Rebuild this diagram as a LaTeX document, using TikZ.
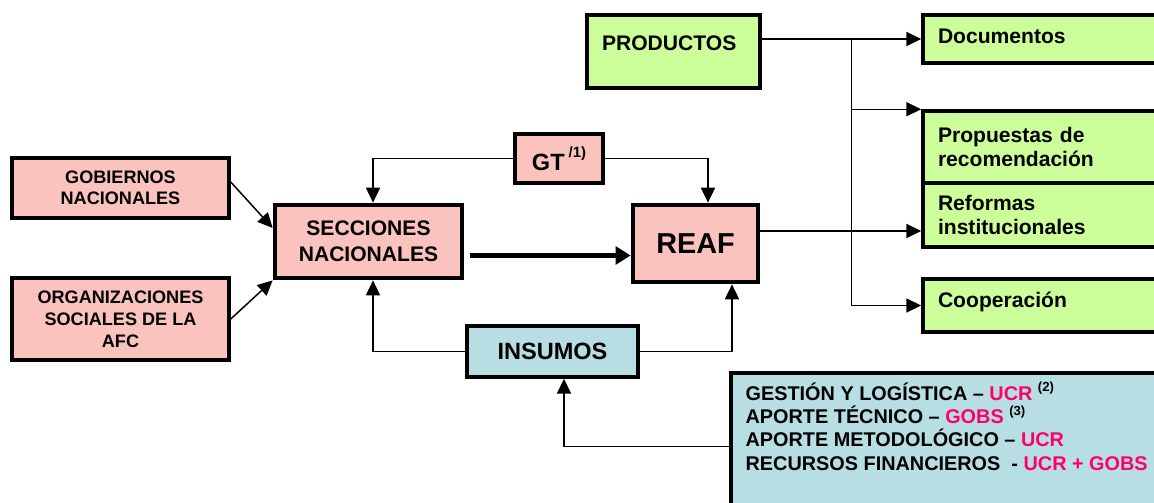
\documentclass[tikz,border=0pt]{standalone}
\usepackage{fontspec}
\setmainfont{Liberation Sans}
\usepackage{xcolor}
\usetikzlibrary{arrows.meta, positioning}
\definecolor{rosa}{RGB}{250,195,190}
\definecolor{verde}{RGB}{204,255,153}
\definecolor{celeste}{RGB}{183,222,227}
\definecolor{fucsia}{RGB}{255,0,102}
\newcommand{\supnote}[1]{\raisebox{0.8ex}{\fontsize{7.5}{8}\selectfont #1}}

\begin{document}
\begin{tikzpicture}[
    x=0.02cm, y=-0.02cm,
    box/.style={draw=black, line width=2pt, inner sep=0pt, align=center},
    rosabox/.style={box, fill=rosa},
    verdebox/.style={box, fill=verde, align=left, inner xsep=0.3cm, text width=4.34cm,
                     font=\fontsize{12}{13.6}\selectfont\bfseries},
    celestebox/.style={box, fill=celeste},
    heavy/.style={line width=2.7pt},
    linea/.style={line width=0.85pt},
    conn/.style={linea, -{Triangle[length=8.5pt, width=8pt]}},
    gruesa/.style={line width=2.3pt, -{Triangle[length=8.5pt, width=10pt]}}
]
\useasboundingbox (0,0) rectangle (1154,503);

   % Entidades
   \node[rosabox, minimum width=4.34cm, minimum height=1.2cm, font=\fontsize{10.3}{12.2}\selectfont\bfseries] (gob) at (120.5,188) {GOBIERNOS\\NACIONALES};
   \node[rosabox, minimum width=4.34cm, minimum height=1.64cm, font=\fontsize{10.3}{12.6}\selectfont\bfseries] (org) at (120.5,319) {ORGANIZACIONES\\SOCIALES DE LA\\AFC};
   \node[rosabox, heavy, minimum width=3.74cm, minimum height=1.46cm, font=\fontsize{12}{14.8}\selectfont\bfseries] (secc) at (368.5,241.5) {SECCIONES\\NACIONALES};
   \node[rosabox, minimum width=1.76cm, minimum height=0.98cm, font=\fontsize{13.4}{16}\selectfont\bfseries] (gt) at (559,158.5) {GT\,\raisebox{1ex}{\fontsize{8.5}{9}\selectfont /1)}};
   \node[rosabox, heavy, minimum width=2.5cm, minimum height=1.54cm, font=\fontsize{16.4}{19}\selectfont\bfseries] (reaf) at (695.5,243.5) {REAF};
   \node[celestebox, minimum width=3.42cm, minimum height=1.02cm, font=\fontsize{13.4}{16}\selectfont\bfseries] (ins) at (552.5,351.5) {INSUMOS};

   % Productos
   \node[verdebox, text width=2.86cm, text height=0.71cm, text depth=0.75cm, inner ysep=0pt] (prod) at (673.5,51.5) {PRODUCTOS};
   \node[verdebox, text height=0.57cm, text depth=0.39cm, inner ysep=0pt] (doc) at (1046.5,39) {Documentos};
   \node[verdebox, minimum height=1.44cm] (prop) at (1046.5,147) {Propuestas de\\recomendación};
   \node[verdebox, minimum height=1.28cm] (ref) at (1046.5,215) {Reformas\\institucionales};
   \node[verdebox, text height=0.57cm, text depth=0.49cm, inner ysep=0pt] (coop) at (1046.5,305.5) {Cooperación};

   % Recursos
   \node[celestebox, minimum width=8.68cm, minimum height=2.94cm] (rec) at (948,446.5) {};
   \node[anchor=north west, align=left, inner sep=0pt, font=\fontsize{11.3}{13.3}\selectfont\bfseries] (rectxt) at ([xshift=0.32cm, yshift=-0.21cm]rec.north west)
   {GESTIÓN Y LOGÍSTICA – \textcolor{fucsia}{UCR} \supnote{(2)}\\
    APORTE TÉCNICO – \textcolor{fucsia}{GOBS} \supnote{(3)}\\
    APORTE METODOLÓGICO – \textcolor{fucsia}{UCR}\\
    RECURSOS FINANCIEROS\ \ - \textcolor{fucsia}{UCR + GOBS}};

   % Conexiones
   \draw[conn] ([yshift=0.12cm]gob.east) -- ([yshift=0.27cm]secc.west);
   \draw[conn] (org.east) -- (secc.south west);
   \draw[conn] (gt.west) -| ([xshift=0.09cm]secc.north);
   \draw[conn] (gt.east) -| ([xshift=0.25cm]reaf.north);

   \coordinate (flujo) at ([xshift=0.12cm, yshift=-0.28cm]secc.east);
   \draw[gruesa] (flujo) -- (flujo -| reaf.west);

   \draw[conn] (ins.west) -| ([xshift=0.09cm]secc.south);
   \draw[conn] (ins.east) -| ([xshift=0.73cm]reaf.south);
   \draw[conn] (rec.west) -| ([xshift=0.23cm]ins.south);

   \draw[conn] (prod.east |- doc.west) -- (doc.west);
   \coordinate (rama) at ([xshift=-1.4cm]doc.west);
   \draw[linea] (rama) -- (rama |- coop.west);
   \draw[conn] (rama |- prop.north west) -- (prop.north west);
   \draw[conn] (rama |- coop.west) -- (coop.west);

   \coordinate (salida) at ([yshift=0.25cm]reaf.east);
   \draw[conn] (salida) -- (salida -| ref.west);
\end{tikzpicture}
\end{document}
